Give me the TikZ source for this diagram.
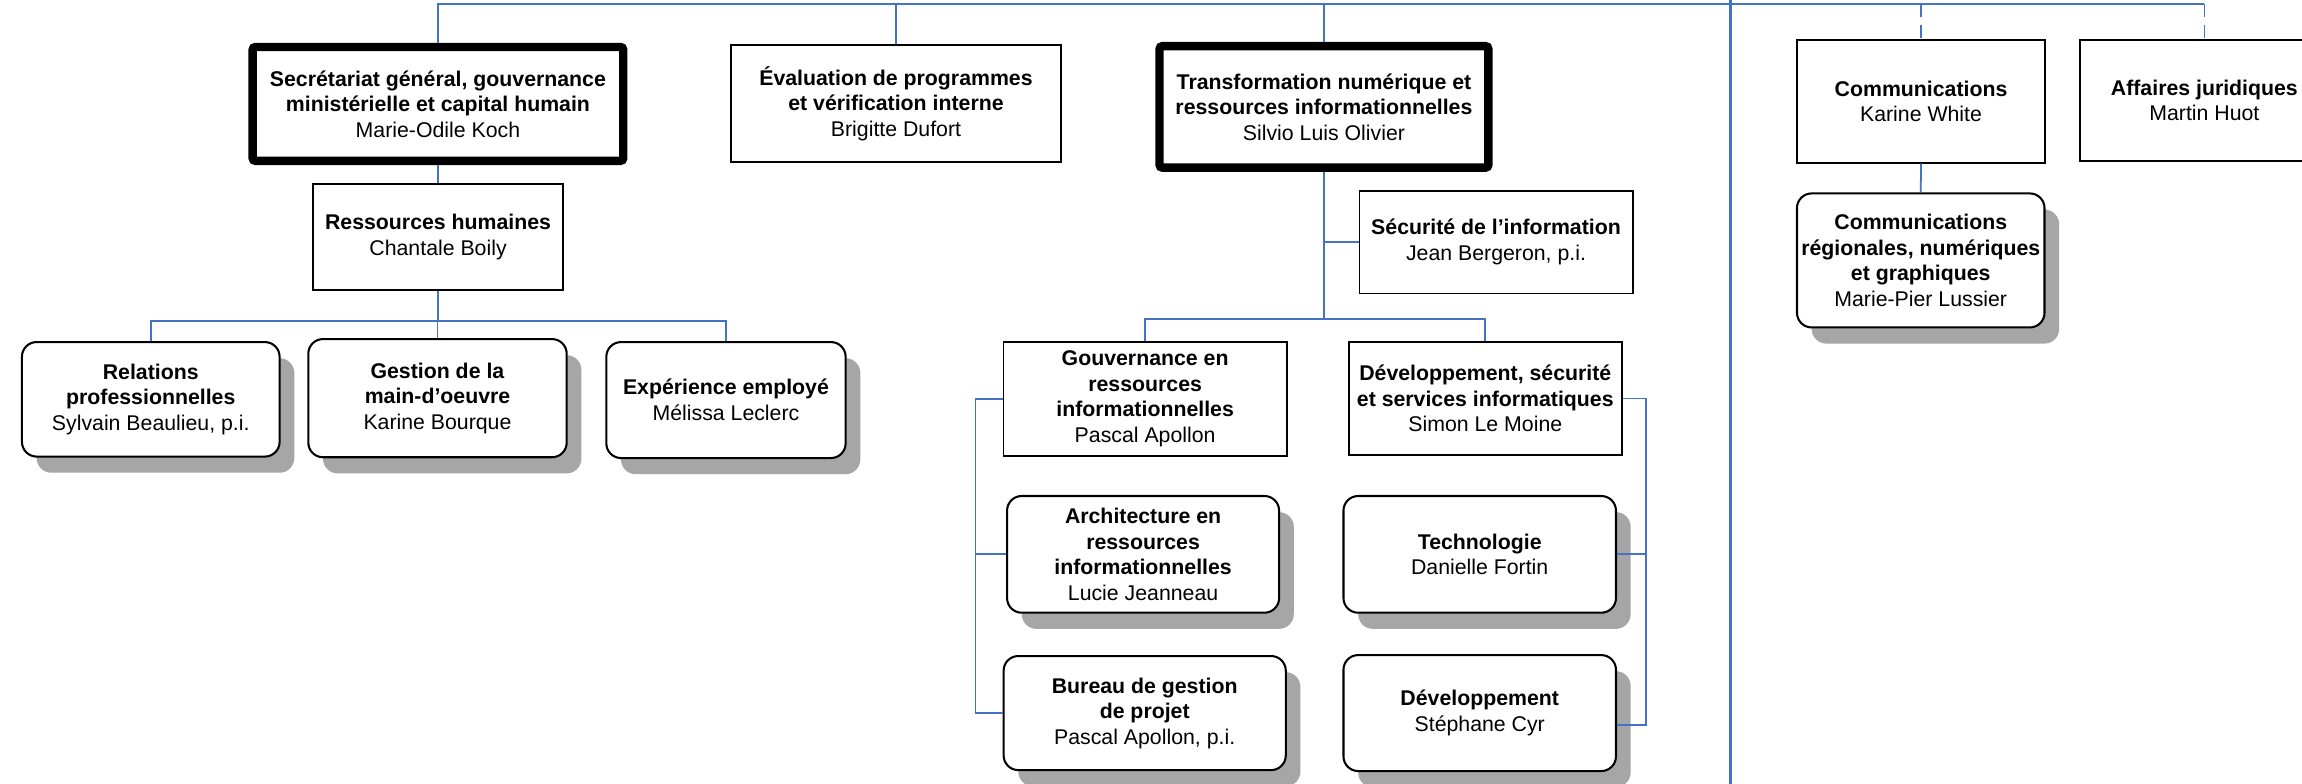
\documentclass[tikz,border=0pt]{standalone}
\usepackage{fontspec}
\setmainfont{Liberation Sans}
\usetikzlibrary{shadows}
\definecolor{linkblue}{RGB}{68,114,196}
\definecolor{shadowgray}{RGB}{166,166,166}
\begin{document}
\begin{tikzpicture}[x=1pt,y=-1pt,
    every node/.style={font=\fontsize{14.5}{17.4}\selectfont, align=center, inner sep=0pt},
    flatbox/.style={draw, line width=1.3pt, fill=white},
    headbox/.style={draw, line width=5.7pt, rounded corners=2pt, fill=white},
    roundbox/.style={draw, line width=1.4pt, rounded corners=10pt, fill=white,
        drop shadow={shadow xshift=10pt, shadow yshift=-11pt, fill=shadowgray, opacity=1}},
    link/.style={draw=linkblue, line width=1.2pt},
    dashlink/.style={link, dash pattern=on 9pt off 5pt}]
        \useasboundingbox (0,0) rectangle (1568,534);
        \node[headbox, minimum width=252.5pt, minimum height=77.6pt] (sec) at (298.3,70.8) {\textbf{Secrétariat général, gouvernance}\\ \textbf{ministérielle et capital humain}\\ Marie-Odile Koch};
        \node[flatbox, minimum width=224.5pt, minimum height=79.3pt] (eval) at (610.3,70.4) {\textbf{Évaluation de programmes}\\ \textbf{et vérification interne}\\ Brigitte Dufort};
        \node[headbox, minimum width=224pt, minimum height=82.8pt] (trans) at (901.8,72.8) {\textbf{Transformation numérique et}\\ \textbf{ressources informationnelles}\\ Silvio Luis Olivier};
        \node[flatbox, minimum width=169pt, minimum height=83.6pt] (comm) at (1308.5,69) {\textbf{Communications}\\ Karine White};
        \node[flatbox, minimum width=169pt, minimum height=82.2pt] (aff) at (1501.5,68.3) {\textbf{Affaires juridiques}\\ Martin Huot};
        \node[flatbox, minimum width=170.7pt, minimum height=72.2pt] (rh) at (298.4,161.4) {\textbf{Ressources humaines}\\ Chantale Boily};
        \node[roundbox, minimum width=175.5pt, minimum height=78pt] (rel) at (102.7,272) {\textbf{Relations}\\ \textbf{professionnelles}\\ Sylvain Beaulieu, p.i.};
        \node[roundbox, minimum width=176pt, minimum height=80.5pt] (gest) at (298,271.2) {\textbf{Gestion de la}\\ \textbf{main-d’oeuvre}\\ Karine Bourque};
        \node[roundbox, minimum width=163pt, minimum height=79pt] (exp) at (494.5,272.5) {\textbf{Expérience employé}\\ Mélissa Leclerc};
        \node[flatbox, minimum width=186pt, minimum height=70pt] (secu) at (1019,164.9) {\textbf{Sécurité de l’information}\\ Jean Bergeron, p.i.};
        \node[flatbox, minimum width=193pt, minimum height=78pt] (gouv) at (780,271.7) {\textbf{Gouvernance en}\\ \textbf{ressources}\\ \textbf{informationnelles}\\ Pascal Apollon};
        \node[flatbox, minimum width=185.6pt, minimum height=77.2pt] (devsec) at (1011.7,271.4) {\textbf{Développement, sécurité}\\ \textbf{et services informatiques}\\ Simon Le Moine};
        \node[roundbox, minimum width=185.3pt, minimum height=79.5pt] (arch) at (778.6,377.6) {\textbf{Architecture en}\\ \textbf{ressources}\\ \textbf{informationnelles}\\ Lucie Jeanneau};
        \node[roundbox, minimum width=192.2pt, minimum height=77.7pt] (bureau) at (779.7,485.7) {\textbf{Bureau de gestion}\\ \textbf{de projet}\\ Pascal Apollon, p.i.};
        \node[roundbox, minimum width=185.6pt, minimum height=79.5pt] (techno) at (1007.9,377.6) {\textbf{Technologie}\\ Danielle Fortin};
        \node[roundbox, minimum width=185.6pt, minimum height=79pt] (devel) at (1007.9,485.7) {\textbf{Développement}\\ Stéphane Cyr};
        \node[roundbox, minimum width=168.6pt, minimum height=91.3pt] (commreg) at (1308.3,177.4) {\textbf{Communications}\\ \textbf{régionales, numériques}\\ \textbf{et graphiques}\\ Marie-Pier Lussier};
        \coordinate (topbus) at (0,2.7);
        \coordinate (rhbus) at (0,218.7);
        \coordinate (tnbus) at (0,217.3);
        \coordinate (lbr) at (664.5,0);
        \coordinate (rbr) at (1121.2,0);
        \coordinate (divtop) at (1178.8,0);
        \coordinate (divbot) at (1178.8,534);
        \coordinate (develin) at ([yshift=-8pt]devel.east);
        \draw[link] (sec.north) |- (aff.north |- topbus);
        \draw[link] (eval.north) -- (eval.north |- topbus);
        \draw[link] (trans.north) -- (trans.north |- topbus);
        \draw[dashlink] (comm.north |- topbus) -- (comm.north);
        \draw[dashlink] (aff.north |- topbus) -- (aff.north);
        \draw[link, line width=1.6pt] (divtop) -- (divbot);
        \draw[link] (sec.south) -- (rh.north);
        \draw[link] (rh.south) -- (rh.south |- rhbus);
        \draw[link] (rel.north) |- (exp.north |- rhbus) -- (exp.north);
        \draw[link] (gest.north) -- (gest.north |- rhbus);
        \draw[link] (trans.south) -- (trans.south |- tnbus);
        \draw[link] (secu.west) -- (secu.west -| trans.south);
        \draw[link] (gouv.north) |- (devsec.north |- tnbus) -- (devsec.north);
        \draw[link] (gouv.west) -| (lbr |- bureau.west) -- (bureau.west);
        \draw[link] (arch.west) -- (arch.west -| lbr);
        \draw[link] (devsec.east) -| (rbr |- develin) -- (develin);
        \draw[link] (techno.east) -- (techno.east -| rbr);
        \draw[link] (comm.south) -- (commreg.north);
\end{tikzpicture}
\end{document}
